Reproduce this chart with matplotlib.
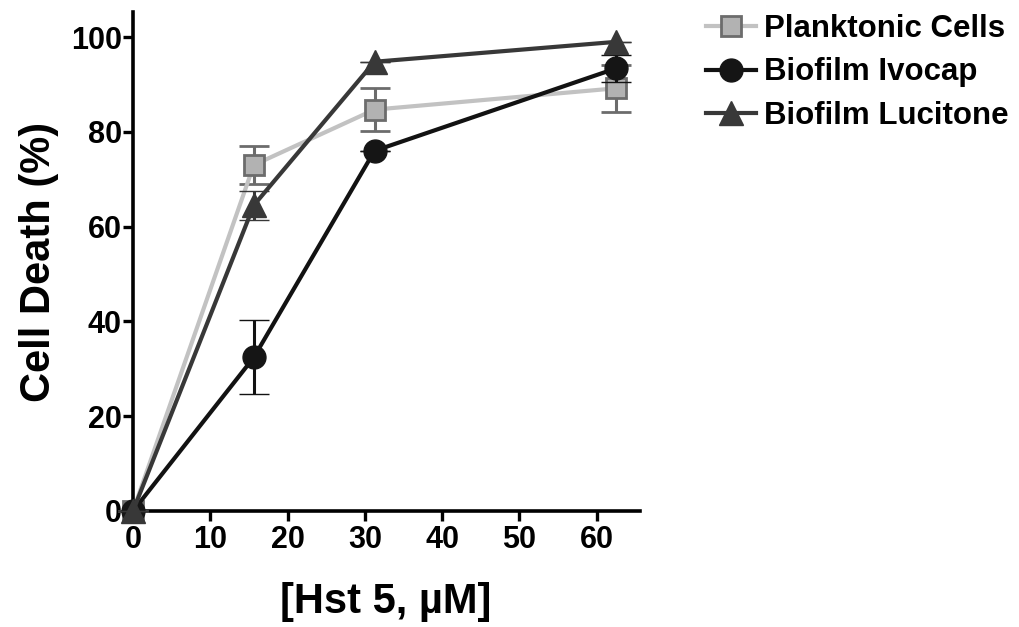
import matplotlib
matplotlib.use("Agg")
import matplotlib.pyplot as plt
from matplotlib.lines import Line2D

conc = [0, 15.625, 31.25, 62.5]
planktonic = [0, 73.0, 84.7, 89.2]
planktonic_err = [0, 4.0, 4.5, 5.0]
ivocap = [0, 32.4, 76.0, 93.4]
ivocap_err = [0, 7.8, 0.0, 2.8]
lucitone = [0, 64.5, 94.8, 99.0]
lucitone_err = [0, 3.0, 0.0, 0.0]
labels = ["Planktonic Cells", "Biofilm Ivocap", "Biofilm Lucitone"]
xticks = [0, 10, 20, 30, 40, 50, 60]
yticks = [0, 20, 40, 60, 80, 100]

plt.rcParams['font.family'] = ['Liberation Sans', 'DejaVu Sans']
plt.rcParams['font.weight'] = 'bold'

fig = plt.figure(figsize=(10.2, 6.27), dpi=100)
ax = fig.add_axes([133 / 1020, 1 - 511 / 627, 507 / 1020, 499 / 627])

styles = [
    dict(color='#c2c2c2', marker='s', ms=14.5, mfc='#b2b2b2', mec='#6c6c6c', mew=2, ecolor='#6c6c6c'),
    dict(color='#121212', marker='o', ms=16.5, mfc='#151515', mec='#151515', mew=1, ecolor='#121212'),
    dict(color='#383838', marker='^', ms=17, mfc='#383838', mec='#383838', mew=1, ecolor='#383838'),
]
series = [(planktonic, planktonic_err), (ivocap, ivocap_err), (lucitone, lucitone_err)]
handles = []
for i, ((vals, err), st) in enumerate(zip(series, styles)):
    h = ax.errorbar(conc, vals, yerr=err, color=st['color'], lw=3,
                    marker=st['marker'], ms=st['ms'], mfc=st['mfc'], mec=st['mec'], mew=st['mew'],
                    ecolor=st['ecolor'], elinewidth=2.2, capsize=11, capthick=2.2,
                    clip_on=False, zorder=3 + i)
    for c in h[1]:
        c.set_clip_on(False)
    for c in h[2]:
        c.set_clip_on(False)
    handles.append(Line2D([], [], color=st['color'], lw=3, marker=st['marker'], ms=st['ms'],
                          mfc=st['mfc'], mec=st['mec'], mew=st['mew']))

ax.set_xlim(0, 65.6)
ax.set_ylim(0, 105.3)
ax.set_xticks(xticks)
ax.set_yticks(yticks)
ax.spines['top'].set_visible(False)
ax.spines['right'].set_visible(False)
for s in ('left', 'bottom'):
    ax.spines[s].set_linewidth(2.6)
ax.tick_params(direction='out', length=7, width=2.4, labelsize=22)
ax.tick_params(axis='y', pad=1)
ax.tick_params(axis='x', pad=3)
for lab in ax.get_xticklabels() + ax.get_yticklabels():
    lab.set_fontweight('bold')

ax.set_ylabel('Cell Death (%)', fontsize=30, fontweight='bold')
ax.set_xlabel('[Hst 5, \u00b5M]', fontsize=30, fontweight='bold')
ax.yaxis.set_label_coords((59 - 133) / 507, 0.5)
ax.xaxis.set_label_coords((386 - 133) / 507, (511 - 582) / 499)

fig.legend(handles, labels, loc='upper left',
           bbox_to_anchor=(706 / 1020, 1 - 14 / 627), frameon=False,
           prop={'size': 22.5, 'weight': 'bold'}, handlelength=1.6,
           handletextpad=0.25, labelspacing=0.43, borderpad=0, borderaxespad=0)

fig.savefig('out.png', dpi=100)
